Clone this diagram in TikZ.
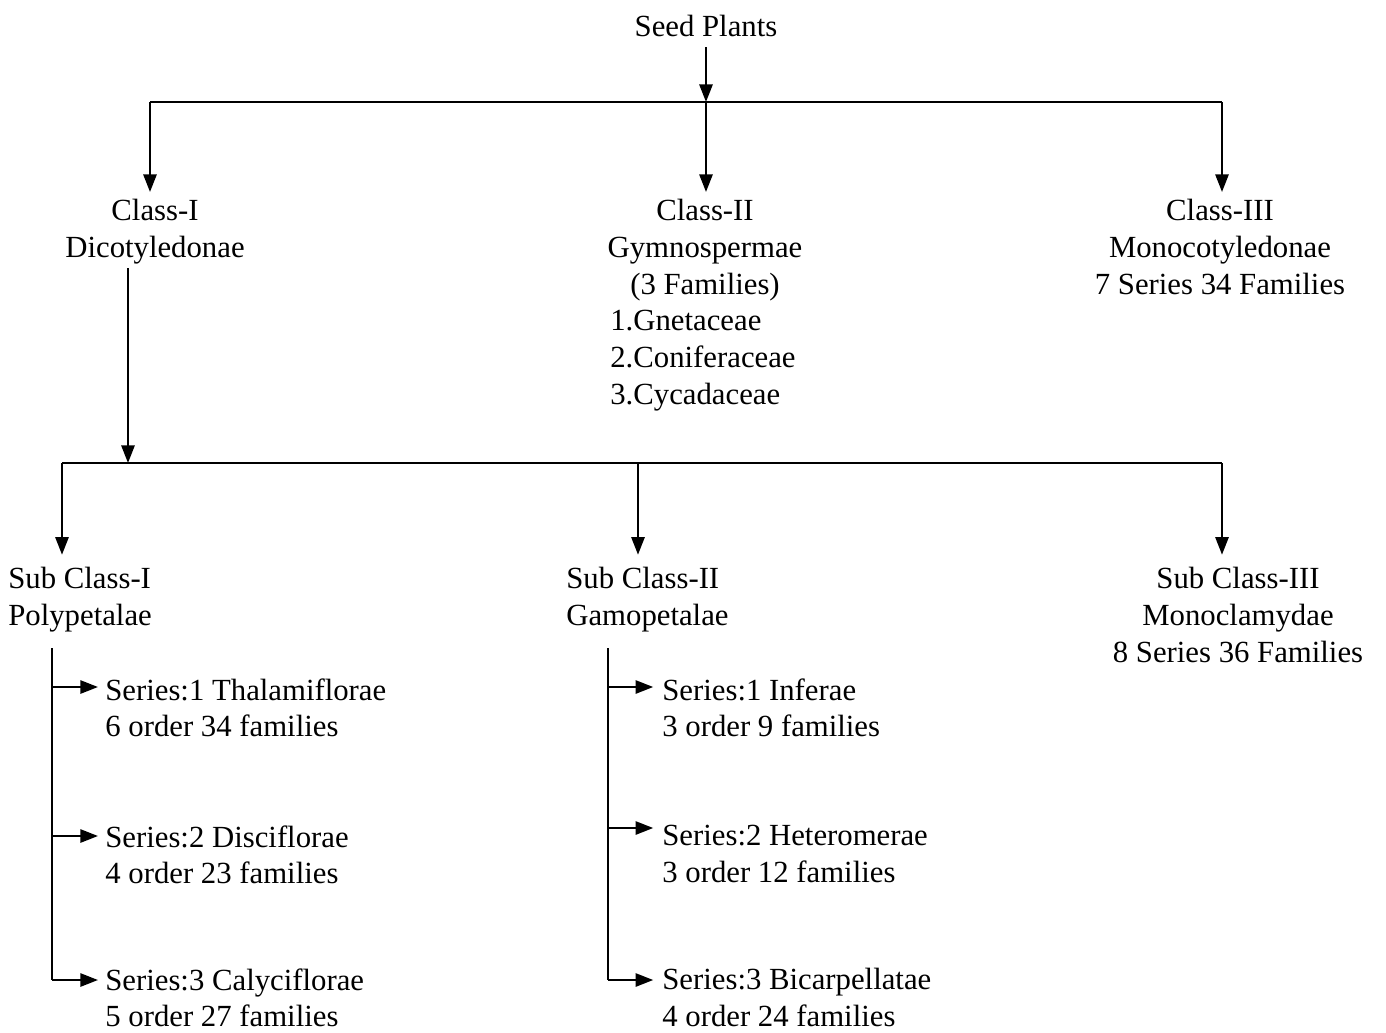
\documentclass[tikz,border=0pt]{standalone}
\usepackage{fontspec}
\setmainfont{Liberation Serif}
\usetikzlibrary{arrows.meta}
\begin{document}
\begin{tikzpicture}[x=0.02cm, y=-0.02cm]
    \tikzstyle{txt}=[inner sep=0pt, font=\fontsize{17.5}{21}\selectfont];
    \tikzstyle{ctr}=[txt, align=center, anchor=north];
    \tikzstyle{lft}=[txt, align=left, anchor=north west];
    \tikzstyle{wire}=[line width=1.2pt];
    \tikzstyle{arr}=[wire, -{Triangle[length=10pt, width=7.5pt]}];

    \useasboundingbox (0,0) rectangle (1386,1032);

    \node (seed) at (706,36) [txt, anchor=base] {Seed Plants};

    \node (class1) at (155,199) [ctr] {Class-I\\Dicotyledonae};
    \node (class2) at (705,199) [ctr] {Class-II\\Gymnospermae\\(3 Families)};
    \node (gymno) at (610,310) [lft] {1.Gnetaceae\\2.Coniferaceae\\3.Cycadaceae};
    \node (class3) at (1220,199) [ctr] {Class-III\\Monocotyledonae\\7 Series 34 Families};

    \node (sub1) at (8,567) [lft] {Sub Class-I\\Polypetalae};
    \node (sub2) at (566,567) [lft] {Sub Class-II\\Gamopetalae};
    \node (sub3) at (1238,567) [ctr] {Sub Class-III\\Monoclamydae\\8 Series 36 Families};

    \node (s11) at (105,678) [lft] {Series:1 Thalamiflorae\\6 order 34 families};
    \node (s12) at (105,825) [lft] {Series:2 Disciflorae\\4 order 23 families};
    \node (s13) at (105,968) [lft] {Series:3 Calyciflorae\\5 order 27 families};

    \node (s21) at (662,678) [lft] {Series:1 Inferae\\3 order 9 families};
    \node (s22) at (662,825) [lft] {Series:2 Heteromerae\\3 order 12 families};
    \node (s23) at (662,968) [lft] {Series:3 Bicarpellatae\\4 order 24 families};

    % classes
    \coordinate (h1) at (150,102);
    \coordinate (h2) at (706,102);
    \coordinate (h3) at (1222,102);
    \draw[arr, shorten <=6pt] (seed.south) -- (h2);
    \draw[wire] (h1) -- (h3);
    \draw[arr, shorten >=4pt] (h1) -- (h1 |- class1.north);
    \draw[arr, shorten >=4pt] (h2) -- (h2 |- class2.north);
    \draw[arr, shorten >=4pt] (h3) -- (h3 |- class3.north);

    % sub classes
    \coordinate (d0) at (128,463);
    \coordinate (k1) at (62,463);
    \coordinate (k2) at (638,463);
    \coordinate (k3) at (1222,463);
    \draw[arr] ([yshift=-2pt]d0 |- class1.south) -- (d0);
    \draw[wire] (k1) -- (k3);
    \draw[arr, shorten >=7pt] (k1) -- (k1 |- sub1.north);
    \draw[arr, shorten >=7pt] (k2) -- (k2 |- sub2.north);
    \draw[arr, shorten >=7pt] (k3) -- (k3 |- sub3.north);

    % series
    \coordinate (p0) at (52,648);
    \coordinate (p1) at (52,687);
    \coordinate (p2) at (52,836);
    \coordinate (p3) at (52,980);
    \draw[wire] (p0) -- (p3);
    \draw[arr, shorten >=4pt] (p1) -- (p1 -| s11.west);
    \draw[arr, shorten >=4pt] (p2) -- (p2 -| s12.west);
    \draw[arr, shorten >=4pt] (p3) -- (p3 -| s13.west);

    \coordinate (q0) at (608,648);
    \coordinate (q1) at (608,687);
    \coordinate (q2) at (608,828);
    \coordinate (q3) at (608,980);
    \draw[wire] (q0) -- (q3);
    \draw[arr, shorten >=5pt] (q1) -- (q1 -| s21.west);
    \draw[arr, shorten >=5pt] (q2) -- (q2 -| s22.west);
    \draw[arr, shorten >=5pt] (q3) -- (q3 -| s23.west);

\end{tikzpicture}
\end{document}
